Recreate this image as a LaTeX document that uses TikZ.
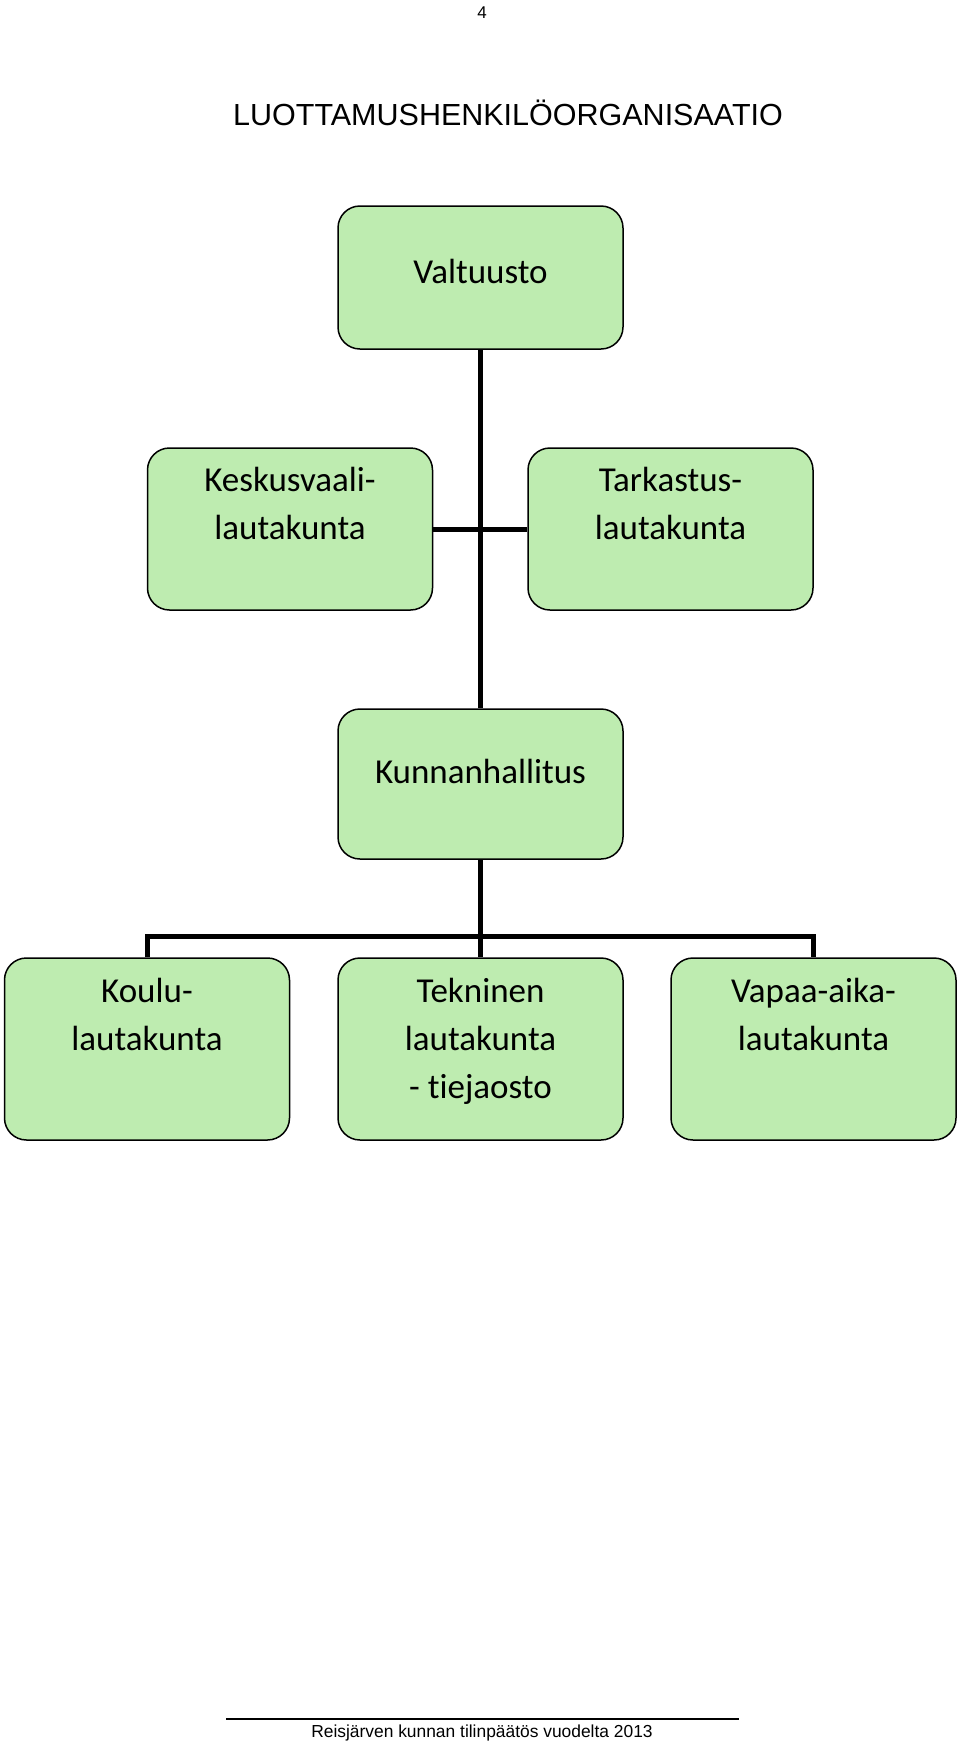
\documentclass[tikz,border=0pt]{standalone}
\usepackage{fontspec}
\setmainfont{Carlito}[Ligatures=NoCommon]
\newfontfamily\arialfont{Liberation Sans}
\definecolor{boxgreen}{RGB}{190,236,176}
\begin{document}
\begin{tikzpicture}[x=1pt,y=-1pt,
  orgbox/.style={draw, fill=boxgreen, rounded corners=22pt, line width=1.5pt, minimum width=285pt, inner sep=0pt},
  boxtext/.style={align=center, inner sep=0pt, font=\fontsize{35}{48}\selectfont},
  conn/.style={line width=5pt}]
\useasboundingbox (0,0) rectangle (960,1743);
\node[anchor=base, inner sep=0pt, font=\arialfont\fontsize{17}{20}\selectfont] (pagenum) at (482,18) {4};
\node[anchor=base, inner sep=0pt, font=\arialfont\fontsize{30.5}{36}\selectfont] (title) at (508,125) {LUOTTAMUSHENKILÖORGANISAATIO};
\node[orgbox, minimum height=143pt] (valt) at (480.5,277.5) {};
\node[orgbox, minimum height=162pt] (kesk) at (290,529) {};
\node[orgbox, minimum height=162pt] (tark) at (670.5,529) {};
\node[orgbox, minimum height=150pt] (kunn) at (480.5,784) {};
\node[orgbox, minimum height=182pt] (koulu) at (147,1049) {};
\node[orgbox, minimum height=182pt] (tekn) at (480.5,1049) {};
\node[orgbox, minimum height=182pt] (vapaa) at (813.5,1049) {};
\coordinate (bus) at (480.5,936);
\draw[conn] (valt) -- (kunn);
\draw[conn] (kesk) -- (tark);
\draw[conn] (kunn) -- (tekn);
\draw[conn] (koulu.north) |- (bus) -| (vapaa.north);
\node[boxtext, anchor=base] (valt-t) at (480.5,283) {Valtuusto};
\node[boxtext, anchor=north] (kesk-t) at (290,467) {Keskusvaali-\\lautakunta};
\node[boxtext, anchor=north] (tark-t) at (670.5,467) {Tarkastus-\\lautakunta};
\node[boxtext, anchor=base] (kunn-t) at (480.5,783) {Kunnanhallitus};
\node[boxtext, anchor=north] (koulu-t) at (147,978) {Koulu-\\lautakunta};
\node[boxtext, anchor=north] (tekn-t) at (480.5,978) {Tekninen\\lautakunta\\- tiejaosto};
\node[boxtext, anchor=north] (vapaa-t) at (813.5,978) {Vapaa-aika-\\lautakunta};
\draw[line width=1.5pt] (226,1719) -- (739,1719);
\node[anchor=base, inner sep=0pt, font=\arialfont\fontsize{17.4}{20}\selectfont] (footer) at (482,1737) {Reisjärven kunnan tilinpäätös vuodelta 2013};
\end{tikzpicture}
\end{document}
